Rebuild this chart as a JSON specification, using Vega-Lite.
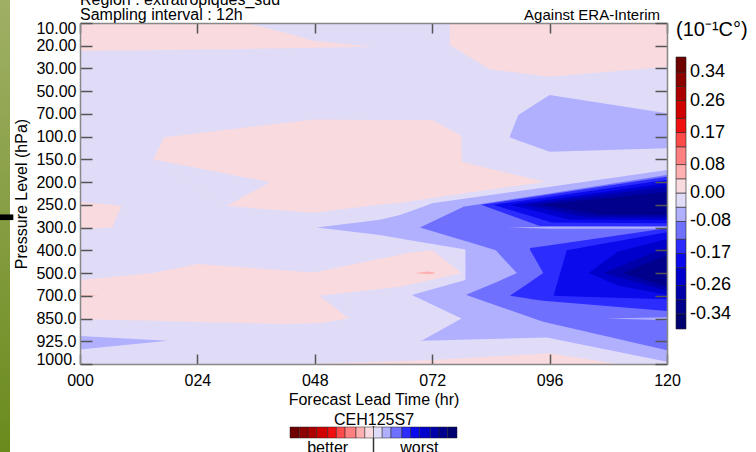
{
  "$schema": "https://vega.github.io/schema/vega-lite/v6.json",
  "width": 587,
  "height": 341,
  "autosize": {"type": "none"},
  "padding": {"left": 80, "top": 23, "right": 89, "bottom": 88},
  "background": "#ffffff",
  "config": {
    "font": "Liberation Sans",
    "view": {"stroke": null},
    "axis": {"grid": false}
  },
  "datasets": {
    "contours": [
      {"id":"r01","v":-0.06,"h":48.4,"a":9.0,"b":9.0},
      {"id":"r01","v":-0.06,"h":61.3,"a":8.66,"b":9.33},
      {"id":"r01","v":-0.06,"h":65.4,"a":8.45,"b":9.48},
      {"id":"r01","v":-0.06,"h":68.0,"a":8.25,"b":9.58},
      {"id":"r01","v":-0.06,"h":68.01,"a":8.25,"b":14.0},
      {"id":"r01","v":-0.06,"h":69.8,"a":8.11,"b":13.98},
      {"id":"r01","v":-0.06,"h":72,"a":7.93,"b":13.97},
      {"id":"r01","v":-0.06,"h":95.4,"a":7.22,"b":13.83},
      {"id":"r01","v":-0.06,"h":120,"a":6.47,"b":14.9},
      {"id":"r02","v":-0.02,"h":67.8,"a":9.57,"b":11.97},
      {"id":"r02","v":-0.02,"h":79.7,"a":10.0,"b":11.25},
      {"id":"r02","v":-0.02,"h":83.8,"a":11.0,"b":11.0},
      {"id":"r03","v":-0.02,"h":67.8,"a":11.97,"b":14.01},
      {"id":"r03","v":-0.02,"h":69.8,"a":12.16,"b":13.98},
      {"id":"r03","v":-0.02,"h":78,"a":13.0,"b":13.0},
      {"id":"r04","v":-0.105,"h":69.5,"a":9.0,"b":9.0},
      {"id":"r04","v":-0.105,"h":78.4,"a":8.08,"b":9.57},
      {"id":"r04","v":-0.105,"h":78.9,"a":8.06,"b":9.6},
      {"id":"r04","v":-0.105,"h":79.0,"a":8.06,"b":11.97},
      {"id":"r04","v":-0.105,"h":94.7,"a":7.54,"b":13.14},
      {"id":"r04","v":-0.105,"h":120,"a":6.69,"b":14.39},
      {"id":"r05","v":-0.06,"h":78.8,"a":9.59,"b":11.97},
      {"id":"r05","v":-0.06,"h":85,"a":10.0,"b":11.41},
      {"id":"r05","v":-0.06,"h":89.3,"a":11.0,"b":11.0},
      {"id":"r06","v":-0.15,"h":82,"a":8.0,"b":8.0},
      {"id":"r06","v":-0.15,"h":94,"a":7.61,"b":8.93},
      {"id":"r06","v":-0.15,"h":120,"a":6.76,"b":8.96},
      {"id":"r07","v":-0.15,"h":87.9,"a":12.0,"b":12.0},
      {"id":"r07","v":-0.15,"h":91.9,"a":11.41,"b":12.13},
      {"id":"r07","v":-0.15,"h":92.0,"a":9.9,"b":12.14},
      {"id":"r07","v":-0.15,"h":94.7,"a":9.82,"b":12.22},
      {"id":"r07","v":-0.15,"h":120,"a":9.03,"b":12.67},
      {"id":"r08","v":-0.105,"h":91.8,"a":9.9,"b":11.43},
      {"id":"r08","v":-0.105,"h":94.7,"a":11.0,"b":11.0},
      {"id":"r09","v":-0.06,"h":87.5,"a":9.0,"b":9.0},
      {"id":"r09","v":-0.06,"h":96,"a":8.96,"b":9.05},
      {"id":"r09","v":-0.06,"h":120,"a":8.95,"b":9.05},
      {"id":"r10","v":-0.06,"h":107.7,"a":13.0,"b":13.0},
      {"id":"r10","v":-0.06,"h":120,"a":12.94,"b":13.08},
      {"id":"r11","v":-0.19,"h":84.5,"a":8.0,"b":8.0},
      {"id":"r11","v":-0.19,"h":96.5,"a":7.63,"b":8.78},
      {"id":"r11","v":-0.19,"h":120,"a":6.9,"b":8.81},
      {"id":"r12","v":-0.19,"h":96.8,"a":12.0,"b":12.0},
      {"id":"r12","v":-0.19,"h":99.5,"a":10.0,"b":12.02},
      {"id":"r12","v":-0.19,"h":120,"a":9.2,"b":12.15},
      {"id":"r13","v":-0.235,"h":88,"a":8.0,"b":8.0},
      {"id":"r13","v":-0.235,"h":100,"a":7.64,"b":8.64},
      {"id":"r13","v":-0.235,"h":120,"a":7.05,"b":8.67},
      {"id":"r14","v":-0.235,"h":104,"a":11.0,"b":11.0},
      {"id":"r14","v":-0.235,"h":110,"a":10.05,"b":11.55},
      {"id":"r14","v":-0.235,"h":120,"a":9.5,"b":11.95},
      {"id":"r15","v":-0.28,"h":91,"a":8.0,"b":8.0},
      {"id":"r15","v":-0.28,"h":103,"a":7.67,"b":8.52},
      {"id":"r15","v":-0.28,"h":120,"a":7.2,"b":8.55},
      {"id":"r16","v":-0.28,"h":107,"a":11.0,"b":11.0},
      {"id":"r16","v":-0.28,"h":120,"a":9.85,"b":11.78},
      {"id":"r17","v":-0.32,"h":94,"a":8.0,"b":8.0},
      {"id":"r17","v":-0.32,"h":106,"a":7.73,"b":8.42},
      {"id":"r17","v":-0.32,"h":120,"a":7.42,"b":8.45},
      {"id":"r18","v":-0.32,"h":111,"a":11.0,"b":11.0},
      {"id":"r18","v":-0.32,"h":120,"a":10.2,"b":11.6},
      {"id":"r19","v":-0.06,"h":87.8,"a":5.03,"b":5.03},
      {"id":"r19","v":-0.06,"h":89.6,"a":4.05,"b":5.17},
      {"id":"r19","v":-0.06,"h":96,"a":3.17,"b":5.66},
      {"id":"r19","v":-0.06,"h":120,"a":3.97,"b":5.51},
      {"id":"r20","v":-0.06,"h":0,"a":13.77,"b":14.36},
      {"id":"r20","v":-0.06,"h":18,"a":13.98,"b":13.98},
      {"id":"r21","v":0.02,"h":0,"a":0,"b":1.23},
      {"id":"r21","v":0.02,"h":34,"a":0,"b":1.14},
      {"id":"r21","v":0.02,"h":42.3,"a":0.45,"b":1.11},
      {"id":"r21","v":0.02,"h":47.7,"a":0.78,"b":1.09},
      {"id":"r21","v":0.02,"h":60,"a":1.04,"b":1.04},
      {"id":"r22","v":0.02,"h":75.6,"a":0,"b":0.97},
      {"id":"r22","v":0.02,"h":83.8,"a":0,"b":2.04},
      {"id":"r22","v":0.02,"h":96,"a":0,"b":2.36},
      {"id":"r22","v":0.02,"h":120,"a":0,"b":1.92},
      {"id":"r23","v":0.02,"h":15,"a":6.0,"b":6.0},
      {"id":"r23","v":0.02,"h":17.2,"a":5.03,"b":6.3},
      {"id":"r23","v":0.02,"h":30,"a":4.7,"b":8.05},
      {"id":"r23","v":0.02,"h":47.7,"a":4.24,"b":8.35},
      {"id":"r23","v":0.02,"h":61,"a":4.27,"b":8.0},
      {"id":"r23","v":0.02,"h":65,"a":4.27,"b":7.92},
      {"id":"r23","v":0.02,"h":72,"a":4.27,"b":7.7},
      {"id":"r23","v":0.02,"h":78,"a":4.97,"b":7.51},
      {"id":"r23","v":0.02,"h":78.05,"a":6.1,"b":7.5},
      {"id":"r23","v":0.02,"h":95,"a":6.99,"b":6.99},
      {"id":"r24","v":-0.02,"h":15,"a":6.0,"b":6.0},
      {"id":"r24","v":-0.02,"h":30,"a":6.63,"b":8.05},
      {"id":"r24","v":-0.02,"h":38.8,"a":7.0,"b":7.0},
      {"id":"r25","v":0.02,"h":0,"a":7.86,"b":9.08},
      {"id":"r25","v":0.02,"h":6.6,"a":8.0,"b":8.99},
      {"id":"r25","v":0.02,"h":8.5,"a":8.05,"b":8.05},
      {"id":"r26","v":0.02,"h":0,"a":11.3,"b":13.03},
      {"id":"r26","v":0.02,"h":15,"a":11.0,"b":13.1},
      {"id":"r26","v":0.02,"h":24,"a":10.6,"b":13.15},
      {"id":"r26","v":0.02,"h":42.2,"a":10.89,"b":13.24},
      {"id":"r26","v":0.02,"h":47.7,"a":10.98,"b":13.21},
      {"id":"r26","v":0.02,"h":49,"a":10.92,"b":13.2},
      {"id":"r26","v":0.02,"h":54.9,"a":10.66,"b":13.0},
      {"id":"r26","v":0.02,"h":54.91,"a":10.66,"b":11.86},
      {"id":"r26","v":0.02,"h":65.4,"a":10.19,"b":11.6},
      {"id":"r26","v":0.02,"h":67.5,"a":10.1,"b":11.5},
      {"id":"r26","v":0.02,"h":72,"a":10.0,"b":11.29},
      {"id":"r26","v":0.02,"h":78,"a":11.0,"b":11.0},
      {"id":"r27","v":-0.02,"h":49,"a":12.0,"b":12.0},
      {"id":"r27","v":-0.02,"h":54.9,"a":11.86,"b":13.0},
      {"id":"r28","v":0.02,"h":47,"a":15,"b":15},
      {"id":"r28","v":0.02,"h":72,"a":14.82,"b":15},
      {"id":"r28","v":0.02,"h":96,"a":14.53,"b":15},
      {"id":"r28","v":0.02,"h":110,"a":15,"b":15},
      {"id":"r29","v":0.06,"h":68.5,"a":11.0,"b":11.0},
      {"id":"r29","v":0.06,"h":71,"a":10.93,"b":11.05},
      {"id":"r29","v":0.06,"h":72.5,"a":10.97,"b":11.02},
      {"id":"r30","v":0.06,"h":0,"a":11.97,"b":12.03},
      {"id":"r30","v":0.06,"h":4,"a":12.0,"b":12.0}
    ]
  },
  "data": {"name": "contours"},
  "resolve": {"axis": {"x": "independent", "y": "independent"}},
  "layer": [
    {
      "data": {"values": [{"x": 0, "x2": 120, "y": 0, "y2": 15}]},
      "mark": {"type": "rect", "color": "#E0DCF8"},
      "encoding": {
        "x": {"field": "x", "type": "quantitative", "scale": {"domain": [0, 120], "nice": false, "zero": false}, "axis": null},
        "x2": {"field": "x2"},
        "y": {"field": "y", "type": "quantitative", "scale": {"domain": [0, 15], "reverse": true, "nice": false, "zero": false}, "axis": null},
        "y2": {"field": "y2"}
      }
    },
    {
      "mark": {"type": "area", "orient": "vertical", "interpolate": "linear", "clip": true, "strokeWidth": 0, "opacity": 1},
      "encoding": {
        "x": {"field": "h", "type": "quantitative",
          "axis": {"orient": "bottom", "values": [0, 24, 48, 72, 96, 120], "format": "03d",
            "tickSize": -10, "tickWidth": 1.5, "tickColor": "#555555", "labelPadding": 18,
            "labelFontSize": 16, "labelColor": "#000000", "labelFont": "Liberation Sans", "labelFlush": false,
            "domainColor": "#888888", "domainWidth": 1.5,
            "title": "Forecast Lead Time (hr)", "titleFontSize": 16, "titleFontWeight": "normal",
            "titleFont": "Liberation Sans", "titleColor": "#000000", "titlePadding": 3, "zindex": 1}},
        "y": {"field": "a", "type": "quantitative", "stack": null,
          "axis": {"orient": "left", "values": [0,1,2,3,4,5,6,7,8,9,10,11,12,13,14,15],
            "labelExpr": "['10.00','20.00','30.00','50.00','70.00','100.0','150.0','200.0','250.0','300.0','400.0','500.0','700.0','850.0','925.0','1000.'][datum.value]",
            "tickSize": -12, "tickWidth": 1.5, "tickColor": "#555555", "labelPadding": 16,
            "labelFontSize": 16, "labelColor": "#000000", "labelFont": "Liberation Sans", "labelFlush": true, "labelFlushOffset": 3, "labelOverlap": false,
            "domainColor": "#888888", "domainWidth": 1.5,
            "title": "Pressure Level (hPa)", "titleFontSize": 16, "titleFontWeight": "normal",
            "titleFont": "Liberation Sans", "titleColor": "#000000", "titlePadding": 6, "zindex": 1}},
        "y2": {"field": "b"},
        "detail": {"field": "id"},
        "fill": {"field": "v", "type": "quantitative",
          "scale": {"type": "threshold",
            "domain": [-0.34,-0.30,-0.26,-0.21,-0.17,-0.13,-0.08,-0.04,0,0.04,0.08,0.13,0.17,0.21,0.26,0.30,0.34],
            "range": ["#00006E","#00008C","#0000AA","#0000CC","#0A0AEC","#2C2CFF","#7070FF","#B0B0FF","#E0DCF8","#F8DADF","#FFB0B0","#FF8080","#FF4A4A","#F01010","#D00000","#AC0000","#8C0000","#6E0000"]},
          "legend": {"type": "gradient", "orient": "none", "direction": "vertical",
            "legendX": 596, "legendY": -3, "padding": 0,
            "gradientLength": 272, "gradientThickness": 10,
            "gradientStrokeColor": "#222222", "gradientStrokeWidth": 0.6,
            "title": "(10⁻¹C°)", "titleFontSize": 20, "titleFontWeight": "normal", "titleFont": "Liberation Sans",
            "titleColor": "#000000", "titlePadding": 17,
            "labelFontSize": 18, "labelFont": "Liberation Sans", "labelColor": "#000000", "labelOffset": 4, "labelOverlap": false,
            "labelExpr": "indexof([-0.34,-0.26,-0.17,-0.08,0,0.08,0.17,0.26,0.34], datum.value) >= 0 ? replace(format(datum.value, '.2f'), '−', '-') : ''"}}
      }
    },
    {
      "mark": {"type": "point", "opacity": 0},
      "encoding": {
        "x": {"field": "h", "type": "quantitative",
          "axis": {"orient": "top", "values": [0, 24, 48, 72, 96, 120], "labels": false, "title": null,
            "tickSize": -10, "tickWidth": 1.5, "tickColor": "#555555", "domainColor": "#888888", "domainWidth": 1.5, "zindex": 1}},
        "y": {"field": "a", "type": "quantitative",
          "axis": {"orient": "right", "values": [0,1,2,3,4,5,6,7,8,9,10,11,12,13,14,15], "labels": false, "title": null,
            "tickSize": -12, "tickWidth": 1.5, "tickColor": "#555555", "domainColor": "#888888", "domainWidth": 1.5, "zindex": 1}}
      }
    },
    {
      "data": {"values": [{"label": "Region : extratropiques_sud", "x": 0, "y": 0}]},
      "mark": {"type": "text", "align": "left", "baseline": "alphabetic", "dy": -18, "fontSize": 16, "font": "Liberation Sans", "color": "#000000", "clip": false},
      "encoding": {
        "x": {"field": "x", "type": "quantitative", "axis": null},
        "y": {"field": "y", "type": "quantitative", "axis": null},
        "text": {"field": "label"}
      }
    },
    {
      "data": {"values": [{"label": "Sampling interval : 12h", "x": 0, "y": 0}]},
      "mark": {"type": "text", "align": "left", "baseline": "alphabetic", "dy": -3, "fontSize": 16, "font": "Liberation Sans", "color": "#000000", "clip": false},
      "encoding": {
        "x": {"field": "x", "type": "quantitative", "axis": null},
        "y": {"field": "y", "type": "quantitative", "axis": null},
        "text": {"field": "label"}
      }
    },
    {
      "data": {"values": [{"label": "Against ERA-Interim", "x": 120, "y": 0}]},
      "mark": {"type": "text", "align": "right", "baseline": "alphabetic", "dx": -7, "dy": -3,
        "fontSize": 15, "font": "Liberation Sans", "color": "#000000", "clip": false},
      "encoding": {
        "x": {"field": "x", "type": "quantitative", "axis": null},
        "y": {"field": "y", "type": "quantitative", "axis": null},
        "text": {"field": "label"}
      }
    },
    {
      "data": {"values": [{"w": -3.0}, {"w": 3.0}]},
      "mark": {"type": "point", "size": 0, "strokeWidth": 0, "filled": false, "opacity": 1},
      "encoding": {
        "stroke": {"field": "w", "type": "quantitative",
          "scale": {"type": "threshold",
            "domain": [-3.4,-3.0,-2.6,-2.1,-1.7,-1.3,-0.8,-0.4,0,0.4,0.8,1.3,1.7,2.1,2.6,3.0,3.4],
            "range": ["#6E0000","#8C0000","#AC0000","#D00000","#F01010","#FF4A4A","#FF8080","#FFB0B0","#F8DADF","#E0DCF8","#B0B0FF","#7070FF","#2C2CFF","#0A0AEC","#0000CC","#0000AA","#00008C","#00006E"]},
          "legend": {"type": "gradient", "orient": "none", "direction": "horizontal",
            "legendX": 210, "legendY": 389, "padding": 0,
            "gradientLength": 167, "gradientThickness": 11,
            "gradientStrokeColor": "#222222", "gradientStrokeWidth": 0.5, "gradientOpacity": 1,
            "title": "CEH125S7", "titleOrient": "top", "titleAnchor": "middle",
            "titleFontSize": 16, "titleFontWeight": "normal", "titleFont": "Liberation Sans", "titleColor": "#000000", "titlePadding": -1,
            "labelFontSize": 16, "labelFont": "Liberation Sans", "labelColor": "#000000", "labelOffset": 2, "labelOverlap": false,
            "labelExpr": "datum.value === -2.1 ? 'better' : (datum.value === 2.1 ? 'worst' : '')"}}
      }
    },
    {
      "data": {"values": [{"x": 60, "y": 17.73, "y2": 18.95}]},
      "mark": {"type": "rule", "clip": false, "color": "#333333", "strokeWidth": 1.5},
      "encoding": {
        "x": {"field": "x", "type": "quantitative", "axis": null},
        "y": {"field": "y", "type": "quantitative", "axis": null},
        "y2": {"field": "y2"}
      }
    },
    {
      "data": {"values": [{"x": -16.4, "x2": -14.31, "y": -1.1, "y2": 19.0}]},
      "mark": {"type": "rect", "clip": false,
        "color": {"gradient": "linear", "x1": 0, "y1": 0, "x2": 0, "y2": 1,
          "stops": [{"offset": 0, "color": "#A0B066"}, {"offset": 1, "color": "#6A8A1C"}]}},
      "encoding": {
        "x": {"field": "x", "type": "quantitative", "axis": null},
        "x2": {"field": "x2"},
        "y": {"field": "y", "type": "quantitative", "axis": null},
        "y2": {"field": "y2"}
      }
    },
    {
      "data": {"values": [{"x": -16.4, "x2": -13.63, "y": 8.42, "y2": 8.67}]},
      "mark": {"type": "rect", "clip": false, "color": "#000000"},
      "encoding": {
        "x": {"field": "x", "type": "quantitative", "axis": null},
        "x2": {"field": "x2"},
        "y": {"field": "y", "type": "quantitative", "axis": null},
        "y2": {"field": "y2"}
      }
    }
  ]
}
